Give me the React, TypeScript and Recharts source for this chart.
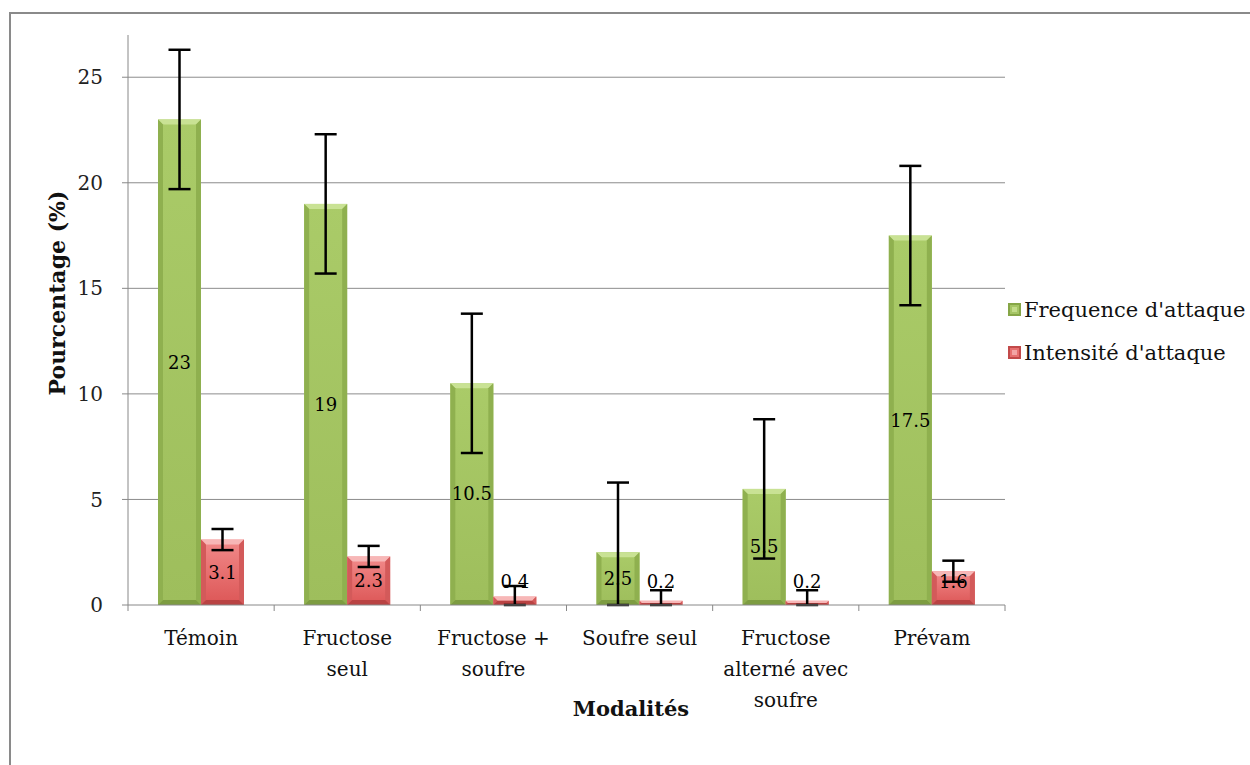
import React from 'react';
import {
  ComposedChart,
  Bar,
  XAxis,
  YAxis,
  CartesianGrid,
  ErrorBar,
  LabelList,
  Label
} from 'recharts';

// values
const categoryLines = [
  ['Témoin'],
  ['Fructose', 'seul'],
  ['Fructose +', 'soufre'],
  ['Soufre seul'],
  ['Fructose', 'alterné avec', 'soufre'],
  ['Prévam']
];
const frequence = [23, 19, 10.5, 2.5, 5.5, 17.5];
const intensite = [3.1, 2.3, 0.4, 0.2, 0.2, 1.6];
// [below, above]
const frequenceErr = [[3.3, 3.3], [3.3, 3.3], [3.3, 3.3], [2.5, 3.3], [3.3, 3.3], [3.3, 3.3]];
const intensiteErr = [[0.5, 0.5], [0.5, 0.5], [0.4, 0.5], [0.2, 0.5], [0.2, 0.5], [0.5, 0.5]];
const yTicks = [0, 5, 10, 15, 20, 25];

const FONT = '"DejaVu Serif", serif';

const data = categoryLines.map((lines, i) => ({
  name: lines.join(' '),
  lines,
  freq: frequence[i],
  freqErr: frequenceErr[i],
  inten: intensite[i],
  intenErr: intensiteErr[i]
}));

const GREEN = { face: 'url(#greenFace)', top: '#c9e294', side: '#8fb04f', bottom: '#7d9c41' };
const RED = { face: 'url(#redFace)', top: '#f7b7b7', side: '#d35a5a', bottom: '#b94343' };

const BevelBar = ({ x, y, width, height, palette }: any) => {
  if (!height || height <= 0) return null;
  const b = Math.min(5, height / 2, width / 2);
  const x2 = x + width;
  const y2 = y + height;
  return (
    <g>
      <rect x={x} y={y} width={width} height={height} fill={palette.face} />
      <polygon points={`${x},${y} ${x2},${y} ${x2 - b},${y + b} ${x + b},${y + b}`} fill={palette.top} />
      <polygon points={`${x},${y} ${x + b},${y + b} ${x + b},${y2 - b} ${x},${y2}`} fill={palette.side} />
      <polygon points={`${x2},${y} ${x2 - b},${y + b} ${x2 - b},${y2 - b} ${x2},${y2}`} fill={palette.side} />
      <polygon points={`${x},${y2} ${x + b},${y2 - b} ${x2 - b},${y2 - b} ${x2},${y2}`} fill={palette.bottom} />
    </g>
  );
};

// centred value label, lifted off the axis when the bar is too short
const ValueLabel = ({ x, y, width, height, value }: any) => {
  const bottom = y + height;
  const cy = Math.min(y + height / 2, bottom - 23);
  return (
    <text
      x={x + width / 2}
      y={cy}
      dy="0.35em"
      textAnchor="middle"
      fontSize={18}
      fontFamily={FONT}
      fill="#000"
    >
      {value}
    </text>
  );
};

const CategoryTick = ({ x, y, payload, index }: any) => {
  const half = payload && payload.offset ? payload.offset : 877 / 12;
  const lines: string[] = data[index] ? data[index].lines : [String(payload.value)];
  return (
    <g>
      <line x1={x - half} y1={y} x2={x - half} y2={y + 6} stroke="#888" />
      {index === data.length - 1 && (
        <line x1={x + half} y1={y} x2={x + half} y2={y + 6} stroke="#888" />
      )}
      {lines.map((ln, i) => (
        <text
          key={i}
          x={x}
          y={y + 40 + i * 31}
          textAnchor="middle"
          fontSize={20}
          fontFamily={FONT}
          fill="#111"
        >
          {ln}
        </text>
      ))}
    </g>
  );
};

const LegendSquare = ({ c1, c2, edge }: any) => (
  <svg width={13} height={13} style={{ marginRight: 3 }}>
    <rect x={0} y={0} width={13} height={13} fill={edge} />
    <rect x={2} y={2} width={9} height={9} fill={c1} />
    <rect x={4} y={4} width={5} height={5} fill={c2} />
  </svg>
);

const ChartLegend = () => (
  <div style={{ position: 'absolute', left: 1008, top: 288, fontFamily: FONT, fontSize: 21, color: '#111' }}>
    <div style={{ display: 'flex', alignItems: 'center', height: 43, whiteSpace: 'nowrap' }}>
      <LegendSquare c1="#a5c565" c2="#c3dc8a" edge="#86a647" />
      <span>Frequence d'attaque</span>
    </div>
    <div style={{ display: 'flex', alignItems: 'center', height: 43, whiteSpace: 'nowrap' }}>
      <LegendSquare c1="#e77070" c2="#f3a5a5" edge="#c24a4a" />
      <span>Intensité d'attaque</span>
    </div>
  </div>
);

const App = () => {
  return (
    <div style={{ position: 'fixed', left: 0, top: 0, width: 1250, height: 765, overflow: 'hidden', background: '#fff' }}>
      <div
        style={{
          position: 'absolute',
          left: 9,
          top: 12,
          width: 1400,
          height: 900,
          border: '2px solid #8a8a8a'
        }}
      />
      <div style={{ position: 'absolute', left: 8, top: 8 }}>
        <ComposedChart
          width={1242}
          height={757}
          data={data}
          margin={{ top: 27, right: 245, left: 60, bottom: 100 }}
          barGap={0}
        >
          <defs>
            <linearGradient id="greenFace" x1="0" y1="0" x2="0" y2="1">
              <stop offset="0%" stopColor="#aacb68" />
              <stop offset="100%" stopColor="#9ebe5c" />
            </linearGradient>
            <linearGradient id="redFace" x1="0" y1="0" x2="0" y2="1">
              <stop offset="0%" stopColor="#f28a8a" />
              <stop offset="100%" stopColor="#dc5656" />
            </linearGradient>
          </defs>
          <CartesianGrid vertical={false} stroke="#8c8c8c" horizontalValues={[5, 10, 15, 20, 25]} />
          <XAxis
            dataKey="name"
            height={60}
            axisLine={{ stroke: '#888' }}
            tickLine={false}
            tickSize={0}
            tickMargin={0}
            interval={0}
            tick={<CategoryTick />}
          >
            <Label
              content={() => (
                <text x={623} y={708} textAnchor="middle" fontSize={21} fontWeight="bold" fontFamily={FONT} fill="#111">
                  Modalités
                </text>
              )}
            />
          </XAxis>
          <YAxis
            width={60}
            domain={[0, 27]}
            ticks={yTicks}
            allowDataOverflow
            axisLine={{ stroke: '#888' }}
            tickLine={{ stroke: '#888' }}
            tickSize={6}
            tickMargin={19}
            tick={{ fontSize: 20, fontFamily: FONT, fill: '#222' }}
          >
            <Label
              content={() => (
                <text
                  x={0}
                  y={0}
                  transform="translate(57 285) rotate(-90)"
                  textAnchor="middle"
                  fontSize={22}
                  fontWeight="bold"
                  fontFamily={FONT}
                  fill="#111"
                >
                  Pourcentage (%)
                </text>
              )}
            />
          </YAxis>
          <Bar
            dataKey="freq"
            name="Frequence d'attaque"
            barSize={43}
            fill="#9bbb59"
            isAnimationActive={false}
            shape={(p: any) => <BevelBar {...p} palette={GREEN} />}
          >
            <LabelList dataKey="freq" content={<ValueLabel />} />
            <ErrorBar dataKey="freqErr" direction="y" width={11} stroke="#000" strokeWidth={2.5} />
          </Bar>
          <Bar
            dataKey="inten"
            name="Intensité d'attaque"
            barSize={43}
            fill="#c0504d"
            isAnimationActive={false}
            shape={(p: any) => <BevelBar {...p} palette={RED} />}
          >
            <LabelList dataKey="inten" content={<ValueLabel />} />
            <ErrorBar dataKey="intenErr" direction="y" width={11} stroke="#000" strokeWidth={2.5} />
          </Bar>
        </ComposedChart>
      </div>
      <ChartLegend />
    </div>
  );
};

export default App;
